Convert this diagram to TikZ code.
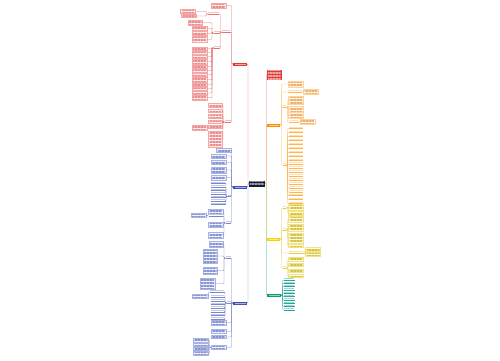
\documentclass[tikz,border=0pt]{standalone}
\usetikzlibrary{patterns.meta}
\definecolor{navy}{HTML}{161C38}
\definecolor{redL}{HTML}{E57373}\definecolor{redD}{HTML}{E53935}\definecolor{redF}{HTML}{FDEEEE}\definecolor{redB}{HTML}{F2A8A8}\definecolor{redT}{HTML}{EC8C8C}
\definecolor{bluL}{HTML}{7986CB}\definecolor{bluD}{HTML}{3F51B5}\definecolor{bluF}{HTML}{F0F2FB}\definecolor{bluB}{HTML}{A9B2E0}\definecolor{bluT}{HTML}{8793D4}
\definecolor{orgL}{HTML}{FFB74D}\definecolor{orgD}{HTML}{FB8C00}\definecolor{orgF}{HTML}{FFF6E9}\definecolor{orgB}{HTML}{FFD39A}\definecolor{orgT}{HTML}{EDB070}
\definecolor{yelL}{HTML}{E8CF3A}\definecolor{yelD}{HTML}{F5D400}\definecolor{yelF}{HTML}{FFFDEA}\definecolor{yelB}{HTML}{F2E38A}\definecolor{yelT}{HTML}{D6C240}
\definecolor{tlL}{HTML}{26A69A}\definecolor{tlD}{HTML}{0A9F72}\definecolor{tlT}{HTML}{26A69A}
\tikzset{
 base/.style={anchor=north west, inner sep=0pt, outer sep=0pt, line width=0.3pt},
 txt/.style={path picture={\fill[pattern={Lines[angle=0,distance=1.5pt,line width=0.4pt]},pattern color=#1]([shift={(1pt,-0.7pt)}]path picture bounding box.north west) rectangle ([shift={(-1pt,0.6pt)}]path picture bounding box.south east);}},
 lab/.style={base, fill=#1, path picture={\fill[#1!45!white]([shift={(1.5pt,-1.1pt)}]path picture bounding box.north west) rectangle ([shift={(-1.5pt,1.1pt)}]path picture bounding box.south east);}},
 labm/.style={base, fill=#1, txt=#1!45!white},
 ul/.style={base, path picture={\fill[#1!45]([shift={(0.3pt,-0.4pt)}]path picture bounding box.north west) rectangle ([shift={(-0.3pt,0.8pt)}]path picture bounding box.south east);},
   append after command={(\tikzlastnode.south west) edge[draw=#1,line width=0.35pt] (\tikzlastnode.south east)}},
 rbox/.style={base, draw=redB, fill=redF, txt=redT}, rul/.style={ul=redL},
 bbox/.style={base, draw=bluB, fill=bluF, txt=bluT}, bul/.style={ul=bluL},
 obox/.style={base, draw=orgB, fill=orgF, txt=orgT}, oul/.style={ul=orgL},
 ybox/.style={base, draw=yelB, fill=yelF, txt=yelT}, yul/.style={ul=yelL},
 tul/.style={ul=tlL},
 rl/.style={draw=redL, line width=0.4pt, rounded corners=0.8pt},
 bl/.style={draw=bluL, line width=0.4pt, rounded corners=0.8pt},
 ol/.style={draw=orgL, line width=0.4pt, rounded corners=0.8pt},
 yl/.style={draw=yelL, line width=0.4pt, rounded corners=0.8pt},
 tl/.style={draw=tlL, line width=0.4pt, rounded corners=0.8pt},
}
\newcommand\nd[6]{\node[#1, minimum width=#5pt, minimum height=#6pt] (#2) at (#3,#4) {};}
\newcommand\cl[3]{\draw[#1] (#2) -- ++(-1.5pt,0) |- (#3);}
\newcommand\cri[3]{\draw[#1] (#2) -- ++(1.5pt,0) |- (#3);}
\begin{document}
\begin{tikzpicture}[x=1pt,y=-1pt]
\useasboundingbox[fill=white] (0,0) rectangle (500,360);
% central and main labels
\nd{labm=navy}{C}{248.5}{180.5}{16.5}{6}
\nd{lab=redD}{R}{233}{62.5}{14}{3}
\nd{lab=bluD}{B1}{233}{185.5}{14}{3}
\nd{lab=bluD}{B2}{233}{301.5}{14}{3}
\nd{labm=redD}{RB}{267}{69.5}{14.5}{10.5}
\nd{lab=orgD}{O}{267}{123.5}{13}{3}
\nd{lab=yelD}{Y}{267}{237.5}{13}{3}
\nd{lab=tlD}{T}{267}{293.8}{14}{3}
\cri{tl}{C.east}{T.west}
\cri{yl}{C.east}{Y.west}
\cri{rl}{C.east}{RB.west}
\cri{ol}{C.east}{O.west}
\draw[rl] (C.west) -- ++(-0.5pt,0) |- (R.east);
\draw[bl] (C.west) -- ++(-0.5pt,0) |- (B2.east);
\draw[bl] (C.west) -- ++(-0.5pt,0) |- (B1.east);
% ---------- red branch
\nd{rbox}{R1}{211}{3}{15}{5} \cl{rl}{R.west}{R1.east}
\nd{rul}{R2}{222}{29.5}{8.5}{2.5} \cl{rl}{R.west}{R2.south east}
\nd{rul}{R3}{224.5}{119.5}{6.5}{2.5} \cl{rl}{R.west}{R3.south east}
\nd{rul}{R2a}{208}{11.5}{11}{2.5} \cl{rl}{R2.south west}{R2a.south east}
\nd{rbox}{R2a1}{180.5}{9.5}{15}{3.5} \cl{rl}{R2a.south west}{R2a1.east}
\nd{rbox}{R2a2}{181.5}{14.5}{15}{3} \cl{rl}{R2a.south west}{R2a2.east}
\nd{rul}{R2c}{213.5}{31}{6.5}{2} \cl{rl}{R2.south west}{R2c.south east}
\nd{rbox}{R2c1}{188}{20.5}{14.5}{4.5} \cl{rl}{R2c.south west}{R2c1.east}
\nd{rbox}{R2c2}{192}{26.5}{15}{3.5} \cl{rl}{R2c.south west}{R2c2.east}
\nd{rbox}{R2c3}{192}{31.5}{15}{3.5} \cl{rl}{R2c.south west}{R2c3.east}
\nd{rbox}{R2c4}{192}{36.5}{15}{5.5} \cl{rl}{R2c.south west}{R2c4.east}
\nd{rul}{R2d}{213.5}{46}{6.5}{2} \cl{rl}{R2.south west}{R2d.south east}
\foreach \yy/\hh [count=\i] in {47/3,51/3,55/3.5,59.5/4.5,65/3,69/3,73/3.5,77.5/4.5,83/3,87/3.5,91.5/3,95.5/4.5}{
 \nd{rbox}{R2d\i}{192}{\yy}{15}{\hh} \cl{rl}{R2d.south west}{R2d\i.east}}
\nd{rbox}{R3a}{208.5}{103.5}{14}{3.5} \cl{rl}{R3.south west}{R3a.east}
\nd{rbox}{R3b}{208.5}{109}{14}{3.5} \cl{rl}{R3.south west}{R3b.east}
\nd{rbox}{R3c}{208.5}{114.5}{14}{3.5} \cl{rl}{R3.south west}{R3c.east}
\nd{rbox}{R3d}{208.5}{120}{14}{3.5} \cl{rl}{R3.south west}{R3d.east}
\nd{rbox}{R3e}{208.5}{125.5}{14}{3} \cl{rl}{R3.south west}{R3e.east}
\nd{rbox}{R3e1}{192}{125.5}{15}{4.5} \cl{rl}{R3e.west}{R3e1.east}
\nd{rbox}{R3f}{208.5}{131.5}{14}{15.5} \cl{rl}{R3.south west}{R3f.east}
% ---------- blue branch 1
\nd{bbox}{B1a}{216.5}{148.5}{14.5}{3.5} \cl{bl}{B1.west}{B1a.east}
\nd{bbox}{B1b}{211}{154}{15}{4} \cl{bl}{B1.west}{B1b.east}
\nd{bbox}{B1c}{211}{160.5}{15}{4} \cl{bl}{B1.west}{B1c.east}
\nd{bbox}{B1d}{211}{167}{15}{6} \cl{bl}{B1.west}{B1d.east}
\nd{bbox}{B1e}{211}{175}{15}{5.5} \cl{bl}{B1.west}{B1e.east}
\nd{bul}{B1g}{227.5}{194.5}{3.5}{2} \cl{bl}{B1.west}{B1g.south east}
\foreach \yy [count=\i] in {181.5,185,188.5,192,195.5,199,202.5}{
 \nd{bul}{B1g\i}{210.5}{\yy}{15}{2} \cl{bl}{B1g.south west}{B1g\i.south east}}
\nd{bul}{B1h}{225.5}{221}{5.5}{2} \cl{bl}{B1.west}{B1h.south east}
\nd{bbox}{B1h1}{208.5}{209.5}{14.5}{4.5} \cl{bl}{B1h.south west}{B1h1.east}
\nd{bul}{B1h2}{208.5}{214}{14.5}{2} \cl{bl}{B1h.south west}{B1h2.south east}
\nd{bbox}{B1h2a}{191}{213.5}{15}{3.5} \cl{bl}{B1h2.south west}{B1h2a.east}
\nd{bbox}{B1h3}{208.5}{222.5}{14.5}{5} \cl{bl}{B1h.south west}{B1h3.east}
\nd{bbox}{B1h4}{208.5}{232}{14.5}{6} \cl{bl}{B1h.south west}{B1h4.east}
% ---------- blue branch 2
\nd{bul}{B2a}{225.5}{256}{5.5}{2} \cl{bl}{B2.west}{B2a.south east}
\nd{bbox}{B2a1}{209}{241.5}{14.5}{6} \cl{bl}{B2a.south west}{B2a1.east}
\nd{bbox}{B2a2}{203}{249}{14.5}{14} \cl{bl}{B2a.south west}{B2a2.east}
\nd{bbox}{B2a3}{203}{267.5}{14.5}{6.5} \cl{bl}{B2a.south west}{B2a3.east}
\nd{bbox}{B2a4}{200}{278}{15}{11} \cl{bl}{B2a.south west}{B2a4.east}
\nd{bul}{B2b}{226.5}{301}{4.5}{2} \cl{bl}{B2.west}{B2b.south east}
\nd{bul}{B2b1}{210}{290}{14.5}{2} \cl{bl}{B2b.south west}{B2b1.south east}
\nd{bbox}{B2b1a}{192}{294.5}{16}{3.5} \cl{bl}{B2b1.south west}{B2b1a.east}
\foreach \yy [count=\i] in {295,299,302.5,306,310,313.5,317}{
 \nd{bul}{B2bl\i}{210.5}{\yy}{14}{2} \cl{bl}{B2b.south west}{B2bl\i.south east}}
\nd{bbox}{B2c}{211}{320}{15}{5} \cl{bl}{B2.west}{B2c.east}
\nd{bbox}{B2d}{211}{329}{15}{4.5} \cl{bl}{B2.west}{B2d.east}
\nd{bbox}{B2e}{211}{335.5}{15}{3} \cl{bl}{B2.west}{B2e.east}
\nd{bbox}{B2f}{211}{345.5}{15}{3.5} \cl{bl}{B2.west}{B2f.east}
\foreach \yy/\hh [count=\i] in {338.5/3.5,343/3.5,347.5/3,351.5/4}{
 \nd{bbox}{B2f\i}{193.5}{\yy}{15}{\hh} \cl{bl}{B2f.west}{B2f\i.east}}
% ---------- orange branch
\nd{obox}{O1}{288}{81}{15}{6} \cri{ol}{O.east}{O1.west}
\nd{oul}{O2}{288}{90}{14}{2} \cri{ol}{O.east}{O2.south west}
\nd{obox}{O2a}{303.5}{89}{15}{5} \cri{ol}{O2.south east}{O2a.west}
\nd{oul}{O3}{282.5}{105}{3.5}{2} \cri{ol}{O.east}{O3.south west}
\nd{obox}{O3a}{288.5}{96.5}{15}{8} \cri{ol}{O3.south east}{O3a.west}
\nd{obox}{O3b}{288.5}{106.5}{15}{5.5} \cri{ol}{O3.south east}{O3b.west}
\nd{obox}{O3c}{288.5}{112.5}{15}{5.5} \cri{ol}{O3.south east}{O3c.west}
\nd{oul}{O3d}{288.5}{120}{10}{2} \cri{ol}{O3.south east}{O3d.south west}
\nd{obox}{O3da}{300}{119.5}{15}{5} \cri{ol}{O3d.south east}{O3da.west}
\nd{oul}{O4}{282.5}{163}{3.5}{2} \cri{ol}{O.east}{O4.south west}
\foreach \i in {1,...,20}{
 \pgfmathsetmacro\yy{126.5+(\i-1)*3.95}
 \nd{oul}{O4l\i}{288.5}{\yy}{14.5}{2} \cri{ol}{O4.south east}{O4l\i.south west}}
% ---------- yellow branch
\nd{yul}{Y1}{282.5}{206}{3.5}{2} \cri{yl}{Y.east}{Y1.south west}
\nd{ybox}{Y1a}{288.5}{204.5}{15}{5.5} \cri{yl}{Y1.south east}{Y1a.west}
\nd{ybox}{Y1b}{288.5}{211}{15}{4} \cri{yl}{Y1.south east}{Y1b.west}
\nd{yul}{Y2}{282.5}{228}{3.5}{2} \cri{yl}{Y.east}{Y2.south west}
\foreach \yy/\hh [count=\i] in {216/6.5,224/7.5,233/10,244.5/3}{
 \nd{ybox}{Y2\i}{288.5}{\yy}{15}{\hh} \cri{yl}{Y2.south east}{Y2\i.west}}
\nd{yul}{Y3}{288.5}{251}{15}{2} \cri{yl}{Y.east}{Y3.south west}
\nd{ybox}{Y3a}{305.5}{247.5}{15}{3.5} \cri{yl}{Y3.south east}{Y3a.west}
\nd{ybox}{Y3b}{305.5}{252.5}{15}{4} \cri{yl}{Y3.south east}{Y3b.west}
\nd{yul}{Y4}{282.5}{266}{3.5}{2} \cri{yl}{Y.east}{Y4.south west}
\foreach \yy/\hh [count=\i] in {257.5/4,263.5/3,269/3,274/3.5}{
 \nd{ybox}{Y4\i}{288.5}{\yy}{15}{\hh} \cri{yl}{Y4.south east}{Y4\i.west}}
% ---------- teal branch
\foreach \i in {1,...,10}{
 \pgfmathsetmacro\yy{278+(\i-1)*3.3}
 \nd{tul}{T\i}{283.5}{\yy}{11}{2} \cri{tl}{T.east}{T\i.south west}}
\end{tikzpicture}
\end{document}
